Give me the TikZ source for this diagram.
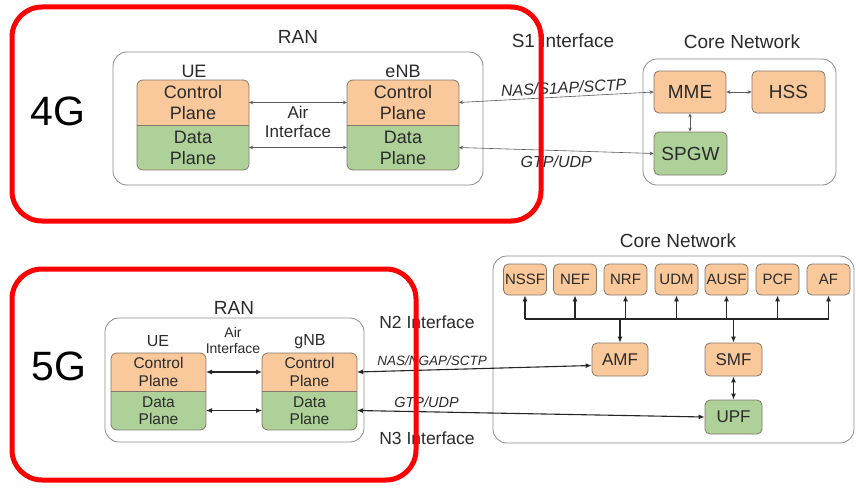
\documentclass[tikz,border=0pt]{standalone}
\usepackage{fontspec}
\setmainfont{Liberation Sans}
\usetikzlibrary{arrows.meta,calc}
\definecolor{orng}{HTML}{F9C89B}
\definecolor{grn}{HTML}{ADD199}
\definecolor{bord}{HTML}{85776A}
\definecolor{txtc}{HTML}{2B2B2B}
\definecolor{redc}{HTML}{FF0000}
\definecolor{contc}{HTML}{8C8C8C}
\newcommand{\fs}[1]{\fontsize{#1}{#1}\selectfont}
\newcommand{\planebox}[7]{%
  \begin{scope}
    \clip[rounded corners=6pt] (#2,#3) rectangle (#5,#6);
    \fill[orng] (#2,#3) rectangle (#5,#4);
    \fill[grn] (#2,#4) rectangle (#5,#6);
  \end{scope}
  \draw[bord, line width=0.8pt] (#2,#4) -- (#5,#4);
  \draw[bord, line width=0.8pt, rounded corners=6pt] (#2,#3) rectangle (#5,#6);
  \node[inner sep=0pt, align=center, text=txtc, font=#7] (#1cp) at ($(#2,#3)!0.5!(#5,#4)$) {Control\\Plane};
  \node[inner sep=0pt, align=center, text=txtc, font=#7] (#1dp) at ($(#2,#4)!0.5!(#5,#6)$) {Data\\Plane};
  \coordinate (#1cpw) at (#2,{(#3+#4)/2});
  \coordinate (#1cpe) at (#5,{(#3+#4)/2});
  \coordinate (#1dpw) at (#2,{(#4+#6)/2});
  \coordinate (#1dpe) at (#5,{(#4+#6)/2});
}
\begin{document}
\begin{tikzpicture}[x=1pt,y=-1pt,
  cont/.style={draw=contc, line width=0.8pt, rounded corners=14pt},
  fnode/.style={draw=bord, line width=0.8pt, rounded corners=5pt, inner sep=0pt, text=txtc},
  lbl/.style={inner sep=0pt, text=txtc},
  arr4/.style={draw=black!65, line width=0.6pt, {Stealth[length=4pt,width=3.5pt]}-{Stealth[length=4pt,width=3.5pt]}},
  arr5/.style={draw=black!85, line width=1.1pt, {Latex[length=6pt,width=5pt]}-{Latex[length=6pt,width=5pt]}},
  up5/.style={draw=black!85, line width=1.1pt, -{Latex[length=6pt,width=5pt]}},
  bigl/.style={inner sep=0pt, text=black, font=\fs{41}}
]
\useasboundingbox (0,0) rectangle (856,487);
\fill[white] (0,0) rectangle (856,487);

% ================= 4G =================
\node[bigl] (g4) at (58,111) {4G};
\node[lbl, font=\fs{19}] (ran4) at (298,37) {RAN};
\draw[cont] (113,52) rectangle (483,185);
\node[lbl, font=\fs{18}] (ue4l) at (194,71) {UE};
\node[lbl, font=\fs{18}] (enb4l) at (403,71) {eNB};
\planebox{ue4}{137}{80}{125}{249}{170}{\fontsize{18}{21}\selectfont}
\planebox{enb4}{347}{80}{125}{459}{170}{\fontsize{18}{21}\selectfont}
\node[lbl, align=center, font=\fontsize{17}{19}\selectfont] (air4) at (298,122) {Air\\Interface};
\draw[arr4] (ue4cpe) -- (enb4cpw);
\draw[arr4] (ue4dpe) -- (enb4dpw);

\node[lbl, font=\fs{19}] (s1l) at (563,41) {S1 Interface};
\node[lbl, font=\fs{19}] (core4l) at (742,42) {Core Network};
\draw[cont] (643,59) rectangle (836,185);
\node[fnode, fill=orng, minimum width=72pt, minimum height=42pt, font=\fs{19}] (mme) at (690,92) {MME};
\node[fnode, fill=orng, minimum width=73pt, minimum height=42pt, font=\fs{19}] (hss) at (788.5,92) {HSS};
\node[fnode, fill=grn, minimum width=73pt, minimum height=43pt, font=\fs{19}] (spgw) at (690.5,153.5) {SPGW};
\draw[arr4] (mme.east) -- (hss.west);
\draw[arr4] (mme.south) -- (mme.south |- spgw.north);
\draw[arr4] (enb4cpe) -- node[pos=0.54, above=3pt, sloped, lbl, font=\itshape\fs{16}] (nas4) {NAS/S1AP/SCTP} (mme.west);
\draw[arr4] (enb4dpe) -- node[pos=0.5, below=5pt, lbl, font=\itshape\fs{16}] (gtp4) {GTP/UDP} (spgw.west);

% ================= 5G =================
\node[bigl] (g5) at (59,366) {5G};
\node[lbl, font=\fs{19}] (ran5) at (234,308) {RAN};
\draw[cont] (105,318) rectangle (364,442);
\node[lbl, font=\fs{16}] (ue5l) at (158,341) {UE};
\node[lbl, font=\fs{16}] (gnb5l) at (310,342) {gNB};
\node[lbl, align=center, font=\fontsize{14}{16}\selectfont] (air5) at (233,340) {Air\\Interface};
\planebox{ue5}{111}{353}{391}{206}{430}{\fontsize{15.5}{17.5}\selectfont}
\planebox{gnb5}{262}{353}{391}{357}{430}{\fontsize{15.5}{17.5}\selectfont}
\draw[arr5] (ue5cpe) -- (gnb5cpw);
\draw[arr5] (ue5dpe) -- (gnb5dpw);

\node[lbl, font=\fs{17.5}] (n2l) at (427,322) {N2 Interface};
\node[lbl, font=\fs{17.5}] (n3l) at (427,438) {N3 Interface};
\node[lbl, font=\fs{19}] (core5l) at (678,241) {Core Network};
\draw[cont] (493,256) rectangle (854,443);

\foreach \nm/\xx in {nssf/525,nef/575,nrf/625.5,udm/676.5,ausf/726.5,pcf/777.5,af/828.5}{
  \node[fnode, fill=orng, minimum width=43pt, minimum height=31pt, font=\fs{15}] (\nm) at (\xx,279.5) {\MakeUppercase{\nm}};
}
\node[fnode, fill=orng, minimum width=56pt, minimum height=33pt, font=\fs{17}] (amf) at (620,359.5) {AMF};
\node[fnode, fill=orng, minimum width=57pt, minimum height=33pt, font=\fs{17}] (smf) at (733.5,359.5) {SMF};
\node[fnode, fill=grn, minimum width=57pt, minimum height=34pt, font=\fs{17}] (upf) at (733.5,417) {UPF};

\coordinate (bus) at (0,319);
\draw[draw=black!85, line width=1.1pt] (nssf.south |- bus) -- (af.south |- bus);
\foreach \nm in {nssf,nef,nrf,udm,ausf,pcf,af}{
  \draw[up5] (\nm.south |- bus) -- (\nm.south);
}
\draw[up5] (amf.north |- bus) -- (amf.north);
\draw[up5] (smf.north |- bus) -- (smf.north);
\draw[arr5] (smf.south) -- (upf.north);

\coordinate (amfin) at ($(amf.west)+(0,6)$);
\draw[arr5] (gnb5cpe) -- node[pos=0.32, above=4pt, lbl, font=\itshape\fs{13.5}] (nas5) {NAS/NGAP/SCTP} (amfin);
\draw[arr5] (gnb5dpe) -- node[pos=0.2, above=4pt, lbl, font=\itshape\fs{14.5}] (gtp5) {GTP/UDP} (upf.west);

% red frames on top
\draw[redc, line width=5pt, rounded corners=30pt] (12,7) rectangle (541,221);
\draw[redc, line width=5pt, rounded corners=30pt] (12,269) rectangle (416,480);
\end{tikzpicture}
\end{document}
